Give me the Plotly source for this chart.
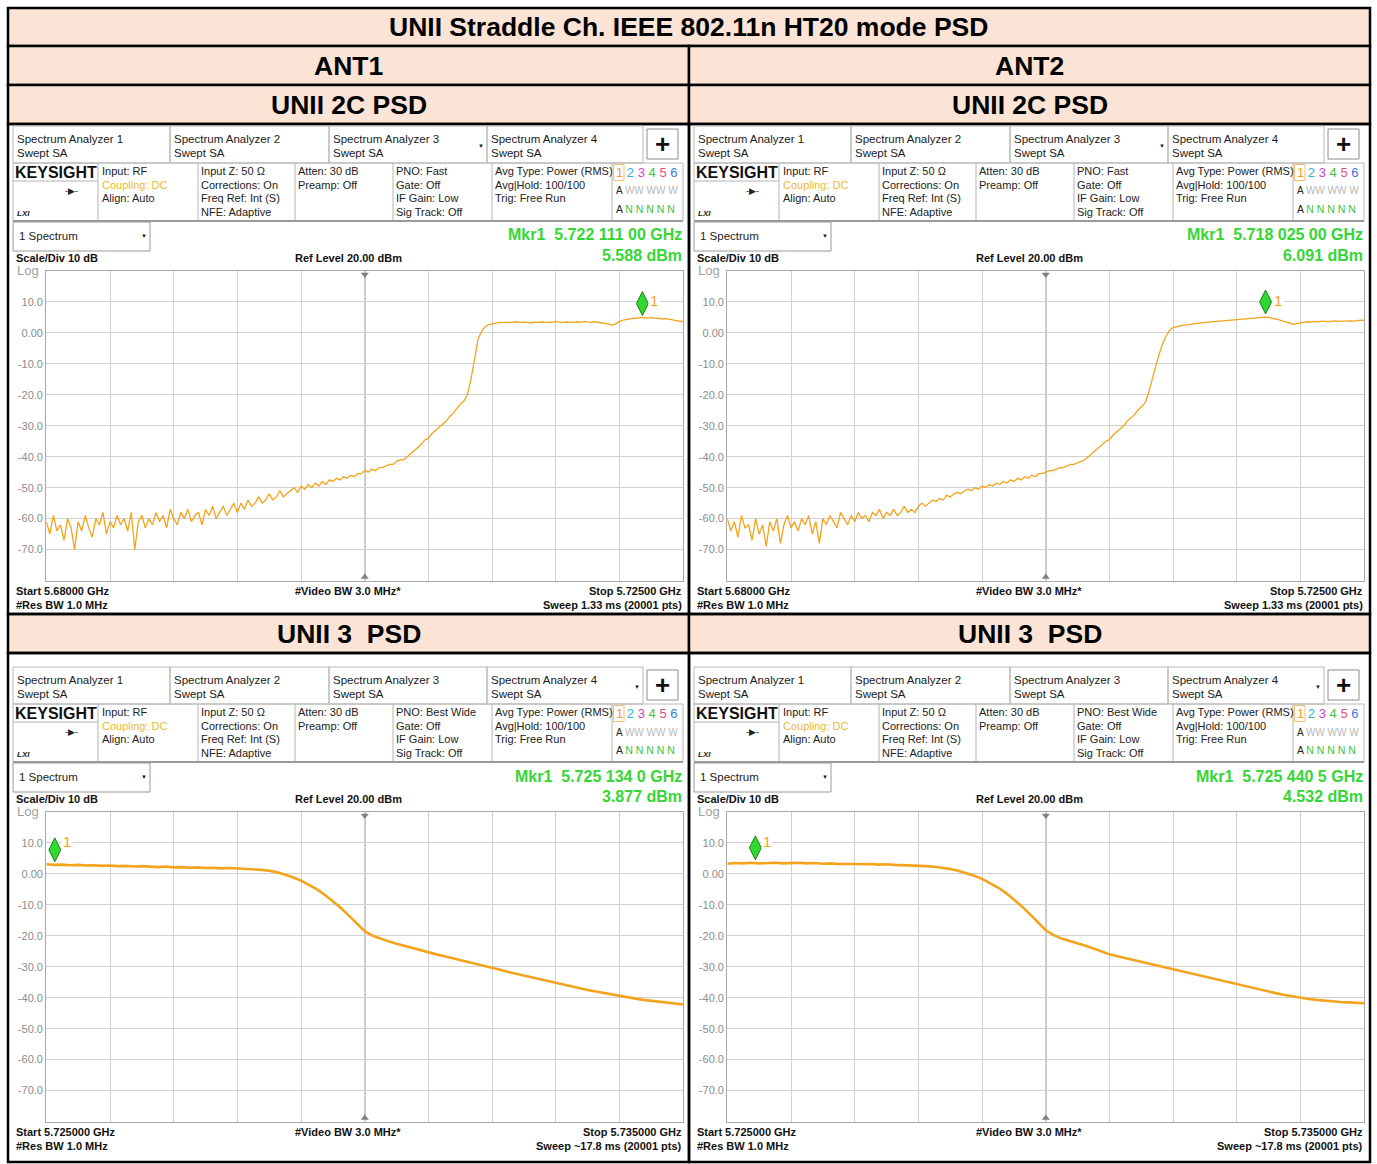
import numpy as np
import plotly.graph_objects as go

W, H = 1377, 1164
FONT = "Liberation Sans, Arial, sans-serif"
PEACH = "#fbe4d5"
TRACE = "#f4a31c"
GREEN = "#35d635"

# sweep limits (GHz)
sweep_2c = (5.680, 5.725)
sweep_3 = (5.725, 5.735)

# ANT1 / UNII 2C trace, dBm, one point per 0.25 MHz
ant1_2c_dbm = [
    -61, -65, -59, -64, -62, -67, -60, -63, -70, -61,
    -64, -59, -63, -66, -60, -62, -58, -65, -61, -63,
    -59, -62, -60, -64, -58, -70, -61, -59, -63, -60,
    -62, -58, -61, -59, -63, -57, -60, -62, -58, -60,
    -57, -61, -59, -58, -62, -57, -59, -56, -60, -58,
    -56, -59, -57, -55, -58, -55, -57, -54, -56, -55,
    -53, -55, -54, -52, -54, -53, -51, -53, -52, -51,
    -50, -51.5, -49.5, -50.5, -49, -50, -48.5, -49.5, -48, -49,
    -47.5, -48, -47, -47.5, -46.5, -47, -46, -46.5, -45.5, -45.5,
    -44.5, -45, -44, -44.5, -43.5, -43.5, -43, -42.5, -42.5, -41.5,
    -41, -41, -40, -39, -38, -37, -36, -34.5, -34, -32.5,
    -31.5, -30.5, -29.5, -28.5, -27, -26, -24.5, -23, -22, -20,
    -15, -8, -2, 0.5, 2, 2.7, 3.0, 3.2, 3.4, 3.3,
    3.5, 3.3, 3.4, 3.6, 3.3, 3.5, 3.4, 3.2, 3.5, 3.4,
    3.6, 3.3, 3.5, 3.4, 3.7, 3.5, 3.3, 3.6, 3.4, 3.5,
    3.6, 3.4, 3.7, 3.5, 3.4, 3.6, 3.3, 3.2, 3.1, 2.8,
    2.5, 3.0, 3.7, 4.1, 4.4, 4.6, 4.8, 4.7, 5.0, 4.9,
    4.8, 5.0, 4.7, 4.8, 4.5, 4.6, 4.3, 4.2, 4.0, 3.8,
    3.6,
]

# ANT2 / UNII 2C trace, dBm, one point per 0.25 MHz
ant2_2c_dbm = [
    -60, -64, -61, -66, -59, -63, -62, -67, -60, -65,
    -62, -69, -61, -64, -60, -68, -62, -59, -63, -61,
    -64, -60, -62, -59, -65, -61, -68, -60, -62, -59,
    -61, -63, -58, -60, -62, -59, -61, -58, -60, -59,
    -61, -58, -59, -57, -60, -58, -59, -57, -59, -58,
    -56, -58, -57, -58, -56, -55, -56, -55, -54, -54.5,
    -53.5, -54, -52.5, -53, -52, -51.5, -52, -51, -50.5, -51,
    -50, -50.5, -49.5, -50, -49, -49.5, -48.5, -49, -48, -48.5,
    -47.5, -48, -47, -47.5, -46.5, -47, -46, -46.5, -45.5, -45.5,
    -45, -44.5, -44.5, -44, -43.5, -43.5, -43, -42.5, -42.5, -42,
    -41.5, -41, -40, -39, -38, -37, -36, -35, -34.5, -33,
    -32, -31, -30, -28.5, -27.5, -26.5, -25, -24, -22.8, -19.6,
    -15, -11, -7, -3.5, -1, 0.8, 1.8, 2.1, 2.3, 2.5,
    2.6, 2.8, 2.9, 3.1, 3.2, 3.4, 3.5, 3.6, 3.8, 3.9,
    4.0, 4.1, 4.2, 4.3, 4.4, 4.5, 4.6, 4.7, 4.8, 4.9,
    5.0, 5.0, 5.1, 5.0, 4.8, 4.5, 4.2, 3.8, 3.5, 3.1,
    2.8, 3.0, 3.3, 3.5, 3.6, 3.5, 3.7, 3.6, 3.8, 3.7,
    3.6, 3.8, 3.9, 3.7, 3.8, 4.0, 3.9, 3.8, 4.0, 4.1,
    4.0,
]

# ANT1 / UNII 3 trace, dBm, one point per 0.125 MHz
ant1_3_dbm = [
    3.1, 2.9, 3.0, 2.8, 2.9, 2.7, 2.8, 2.6, 2.7,
    2.5, 2.6, 2.4, 2.5, 2.3, 2.2, 2.4, 2.1,
    2.2, 2.0, 2.1, 1.9, 2.0, 1.8, 1.9, 1.8,
    1.7, 1.5, 1.3, 1.0, 0.5, -0.3, -1.1, -2.2,
    -3.5, -5.0, -6.8, -8.8, -11.0, -13.5, -16.0, -18.5,
    -20.0, -21.0, -21.8, -22.6, -23.3, -24.0, -24.8, -25.5,
    -26.0, -26.6, -27.2, -27.8, -28.4, -29.0, -29.7, -30.4,
    -31.0, -31.7, -32.3, -32.9, -33.5, -34.1, -34.7, -35.3,
    -35.9, -36.4, -37.0, -37.5, -38.0, -38.5, -39.0, -39.5,
    -39.9, -40.3, -40.7, -41.0, -41.3, -41.6, -41.9, -42.2,
]

# ANT2 / UNII 3 trace, dBm, one point per 0.125 MHz
ant2_3_dbm = [
    3.3, 3.5, 3.4, 3.6, 3.4, 3.5, 3.6, 3.4, 3.5,
    3.6, 3.4, 3.5, 3.3, 3.4, 3.2, 3.3, 3.2,
    3.1, 3.2, 3.0, 3.1, 2.9, 2.8, 2.9, 2.7,
    2.5, 2.3, 2.0, 1.6, 1.0, 0.3, -0.6, -1.6,
    -2.9, -4.4, -6.2, -8.2, -10.5, -13.0, -15.6, -18.2,
    -19.8, -20.9, -21.7, -22.4, -23.2, -24.1, -25.1, -26.0,
    -26.6, -27.2, -27.8, -28.4, -29.0, -29.6, -30.3, -31.0,
    -31.6, -32.2, -32.8, -33.4, -34.0, -34.6, -35.2, -35.8,
    -36.4, -36.9, -37.5, -38.0, -38.6, -39.1, -39.6, -40.0,
    -40.4, -40.7, -41.0, -41.2, -41.4, -41.5, -41.7, -41.8,
]

mkr_freq_ghz = [5.72211100, 5.71802500, 5.7251340, 5.7254405]
mkr_dbm = [5.588, 6.091, 3.877, 4.532]
mkr_freq_text = ["5.722 111 00 GHz", "5.718 025 00 GHz", "5.725 134 0 GHz", "5.725 440 5 GHz"]

ytick_vals = [10, 0, -10, -20, -30, -40, -50, -60, -70]
ytick_text = ["10.0", "0.00", "-10.0", "-20.0", "-30.0", "-40.0", "-50.0", "-60.0", "-70.0"]

panels = [
    dict(ox=0, oy=0, dbm=ant1_2c_dbm, sweep=sweep_2c, pno="PNO: Fast", tab=2,
         start="Start 5.68000 GHz", stop="Stop 5.72500 GHz", swp="Sweep 1.33 ms (20001 pts)"),
    dict(ox=681, oy=0, dbm=ant2_2c_dbm, sweep=sweep_2c, pno="PNO: Fast", tab=2,
         start="Start 5.68000 GHz", stop="Stop 5.72500 GHz", swp="Sweep 1.33 ms (20001 pts)"),
    dict(ox=0, oy=541, dbm=ant1_3_dbm, sweep=sweep_3, pno="PNO: Best Wide", tab=3,
         start="Start 5.725000 GHz", stop="Stop 5.735000 GHz", swp="Sweep ~17.8 ms (20001 pts)"),
    dict(ox=681, oy=541, dbm=ant2_3_dbm, sweep=sweep_3, pno="PNO: Best Wide", tab=3,
         start="Start 5.725000 GHz", stop="Stop 5.735000 GHz", swp="Sweep ~17.8 ms (20001 pts)"),
]

shapes = []
anns = []


def label(x, y, s, size=11, color="#1a1a1a", anchor="left", bold=False, italic=False):
    if bold:
        s = f"<b>{s}</b>"
    if italic:
        s = f"<i>{s}</i>"
    anns.append(dict(xref="paper", yref="paper", x=x / W, y=1 - y / H, text=s, showarrow=False,
                     xanchor=anchor, yanchor="middle", borderpad=0,
                     font=dict(family=FONT, size=size, color=color)))


def box(x0, y0, x1, y1, line="#b4b4b4", width=1, fill="rgba(0,0,0,0)"):
    shapes.append(dict(type="rect", xref="paper", yref="paper", x0=x0 / W, x1=x1 / W,
                       y0=1 - y0 / H, y1=1 - y1 / H, fillcolor=fill,
                       line=dict(color=line, width=width)))


def seg(x0, y0, x1, y1, color="#b4b4b4", width=1):
    shapes.append(dict(type="line", xref="paper", yref="paper", x0=x0 / W, x1=x1 / W,
                       y0=1 - y0 / H, y1=1 - y1 / H, line=dict(color=color, width=width)))


fig = go.Figure()

# table header cells
box(8, 8, 1370, 46, line="black", width=2.5, fill=PEACH)
for cx0, cx1 in [(8, 689), (689, 1370)]:
    box(cx0, 46, cx1, 85, line="black", width=2.5, fill=PEACH)
    box(cx0, 85, cx1, 124, line="black", width=2.5, fill=PEACH)
    box(cx0, 614, cx1, 653, line="black", width=2.5, fill=PEACH)
box(8, 124, 689, 614, line="black", width=2.5)
box(689, 124, 1370, 614, line="black", width=2.5)
box(8, 653, 689, 1162, line="black", width=2.5)
box(689, 653, 1370, 1162, line="black", width=2.5)

label(689, 27, "UNII Straddle Ch. IEEE 802.11n HT20 mode PSD", size=26.5, color="black", anchor="center", bold=True)
label(348.5, 66, "ANT1", size=26.5, color="black", anchor="center", bold=True)
label(1029.5, 66, "ANT2", size=26.5, color="black", anchor="center", bold=True)
for cx in (348.5, 1029.5):
    label(cx, 105, "UNII 2C PSD", size=26.5, color="black", anchor="center", bold=True)
    label(cx, 634, "UNII 3\u00a0\u00a0PSD", size=26.5, color="black", anchor="center", bold=True)

tab_edges = [13, 170, 329, 487, 643]
sep_x = [98, 198, 295, 393, 492, 612]
trace_colors = ["#f4a31c", "#27b4d8", "#cc44cc", "#45c045", "#e0507a", "#3a78d8"]

for k, p in enumerate(panels):
    ox, oy = p["ox"], p["oy"]
    n = "" if k == 0 else str(k + 1)

    def X(v):
        return v + ox

    def Y(v):
        return v + oy

    # tabs
    for t in range(4):
        box(X(tab_edges[t]), Y(126), X(tab_edges[t + 1]), Y(163), line="#b8b8b8")
        label(X(tab_edges[t] + 3), Y(139), f"Spectrum Analyzer {t + 1}", size=11.5)
        label(X(tab_edges[t] + 3), Y(153), "Swept SA", size=11.5)
    label(X(tab_edges[p["tab"] + 1] - 6), Y(146), "▼", size=6, anchor="center")
    box(X(647), Y(129), X(678), Y(159), line="#8c8c8c")
    label(X(662.5), Y(144), "+", size=26, color="#111", anchor="center", bold=True)

    # settings strip
    box(X(13), Y(163), X(683), Y(221), line="#b8b8b8")
    for sx in sep_x:
        seg(X(sx), Y(163), X(sx), Y(221))
    seg(X(13), Y(181), X(98), Y(181))
    seg(X(13), Y(221), X(683), Y(221), color="#9a9a9a", width=2)
    label(X(14), Y(172), "KEYSIGHT", size=16, color="#111", bold=True)
    label(X(71), Y(191), "-▶-", size=9, color="#222", anchor="center")
    label(X(16), Y(213), "LXI", size=8, color="#222", bold=True, italic=True)

    rows = [171, 184.5, 198, 211.5]
    cols = [
        (101, ["Input: RF", "<span style='color:#f0b830'>Coupling: DC</span>", "Align: Auto"]),
        (200, ["Input Z: 50 Ω", "Corrections: On", "Freq Ref: Int (S)", "NFE: Adaptive"]),
        (297, ["Atten: 30 dB", "Preamp: Off"]),
        (395, [p["pno"], "Gate: Off", "IF Gain: Low", "Sig Track: Off"]),
        (494, ["Avg Type: Power (RMS)", "Avg|Hold: 100/100", "Trig: Free Run"]),
    ]
    for cx, lines in cols:
        for r, s in enumerate(lines):
            label(X(cx), Y(rows[r]), s, size=11, color="#222")

    nums = " ".join(f"<span style='color:{c}'>{i + 1}</span>" for i, c in enumerate(trace_colors))
    label(X(615), Y(172.5), nums, size=13)
    box(X(613.5), Y(164.5), X(624), Y(180.5), line="#f4c070")
    label(X(615), Y(191), "A <span style='color:#b8b8b8'>WW WW W</span>", size=10, color="#222")
    label(X(615), Y(209), "A <span style='color:#3cbf3c'>N N N N N</span>", size=10.5, color="#222")

    # measurement header
    box(X(13), Y(222), X(150), Y(251), line="#9a9a9a")
    label(X(18), Y(236), "1 Spectrum", size=11.5, color="#222")
    label(X(144), Y(236), "▼", size=6, anchor="center")
    label(X(683), Y(235), f"Mkr1\u00a0\u00a0{mkr_freq_text[k]}", size=16, color=GREEN, anchor="right", bold=True)
    label(X(683), Y(255), f"{mkr_dbm[k]:.3f} dBm", size=16, color=GREEN, anchor="right", bold=True)
    label(X(15), Y(257.5), "Scale/Div 10 dB", size=11, color="#111", bold=True)
    label(X(348), Y(257.5), "Ref Level 20.00 dBm", size=11, color="#111", anchor="center", bold=True)
    label(X(16), Y(270.5), "Log", size=13, color="#a0a0a0")

    # footer
    label(X(15), Y(590.5), p["start"], size=11, color="#111", bold=True)
    label(X(15), Y(605), "#Res BW 1.0 MHz", size=11, color="#111", bold=True)
    label(X(348), Y(590.5), "#Video BW 3.0 MHz*", size=11, color="#111", anchor="center", bold=True)
    label(X(683), Y(590.5), p["stop"], size=11, color="#111", anchor="right", bold=True)
    label(X(683), Y(605), p["swp"], size=11, color="#111", anchor="right", bold=True)

    # trace
    f0, f1 = p["sweep"]
    freq = np.linspace(f0, f1, len(p["dbm"]))
    lw = 1.3 if k < 2 else 2.6
    fig.add_trace(go.Scatter(x=freq, y=p["dbm"], mode="lines", line=dict(color=TRACE, width=lw),
                             xaxis="x" + n, yaxis="y" + n, showlegend=False, hoverinfo="skip"))

    centre = (f0 + f1) / 2
    div = (f1 - f0) / 10
    grid_x = [f0 + div * i for i in range(1, 10)]
    fig.add_trace(go.Scatter(x=[centre, centre], y=[18.9, -78.9], mode="markers",
                             marker=dict(symbol=["triangle-down", "triangle-up"], size=7, color="#808080"),
                             xaxis="x" + n, yaxis="y" + n, showlegend=False, hoverinfo="skip"))
    # marker 1 (diamond sits on top of the marker point)
    fig.add_trace(go.Scatter(x=[mkr_freq_ghz[k]], y=[mkr_dbm[k] + 3.9], mode="markers",
                             marker=dict(symbol="diamond-tall", size=17, color="#2fd92f",
                                         line=dict(color="#1a7f1a", width=1)),
                             xaxis="x" + n, yaxis="y" + n, showlegend=False, hoverinfo="skip"))
    anns.append(dict(xref="x" + n, yref="y" + n, x=mkr_freq_ghz[k], y=10.5, text="1", showarrow=False,
                     xanchor="left", yanchor="middle", xshift=6, bgcolor="white", borderpad=1,
                     font=dict(family=FONT, size=15, color=TRACE)))
    shapes.append(dict(type="line", xref="x" + n, yref=f"y{n} domain", x0=centre, x1=centre, y0=0, y1=1,
                       line=dict(color="#808080", width=1.3), layer="below"))

    fig.update_layout({
        "xaxis" + n: dict(domain=[X(46.3) / W, X(683.3) / W], anchor="y" + n, range=[f0, f1],
                          tickvals=grid_x, showticklabels=False, ticks="", showgrid=True,
                          gridcolor="#d0d0d0", gridwidth=1.3, zeroline=False, showline=True,
                          mirror=True, linecolor="#a8a8a8", linewidth=1.3, fixedrange=True),
        "yaxis" + n: dict(domain=[1 - Y(580.5) / H, 1 - Y(271) / H], anchor="x" + n, range=[-80, 20],
                          tickvals=ytick_vals, ticktext=ytick_text, ticks="", showgrid=True,
                          gridcolor="#d0d0d0", gridwidth=1.3, zeroline=False, showline=True,
                          mirror=True, linecolor="#a8a8a8", linewidth=1.3,
                          tickfont=dict(family=FONT, size=11, color="#8c8c8c"), fixedrange=True),
    })

fig.update_layout(
    width=W, height=H,
    margin=dict(l=0, r=0, t=0, b=0),
    paper_bgcolor="white", plot_bgcolor="white",
    shapes=shapes, annotations=anns, showlegend=False,
)

fig.write_html("out.html", config={"displayModeBar": False},
               post_script="document.body.style.margin='0';")
